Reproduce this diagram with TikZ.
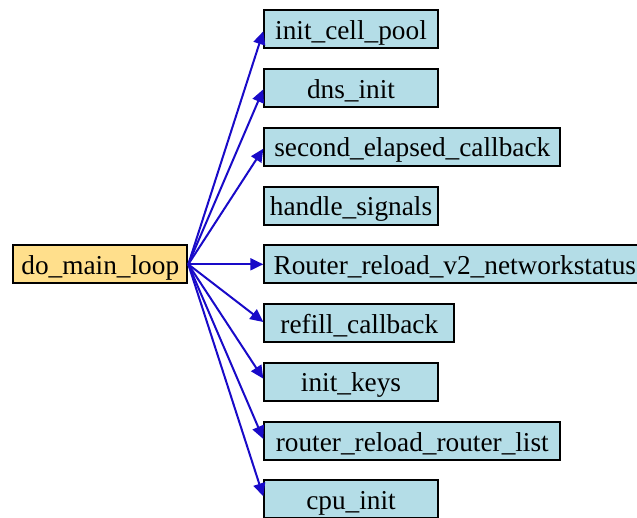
\documentclass[tikz,border=0pt]{standalone}
\usepackage{fontspec}
\setmainfont{LiberationSerif}[Extension=.ttf, UprightFont=*-Regular, BoldFont=*-Bold, ItalicFont=*-Italic, BoldItalicFont=*-BoldItalic]
\usetikzlibrary{arrows.meta}
\definecolor{calleefill}{RGB}{180,221,231}
\definecolor{callerfill}{RGB}{255,223,140}
\definecolor{calledge}{RGB}{25,10,200}
\begin{document}
\begin{tikzpicture}[x=1pt,y=-1pt,
  fn/.style={draw=black, line width=2pt, minimum height=38pt, inner sep=0pt,
             text height=20pt, text depth=0pt, font=\fontsize{27.3}{32}\selectfont},
  callee/.style={fn, fill=calleefill, anchor=west},
  call/.style={draw=calledge, line width=2pt, -{Triangle[length=13pt,width=12pt]}}]
\useasboundingbox (0,0) rectangle (637,517);

% caller
\node[fn, fill=callerfill, minimum width=174pt] (main) at (100.3,264.3) {do\_main\_loop};

% callees, one column
\node[callee, minimum width=173.4pt] (pool)    at (263.3,29.3)  {init\_cell\_pool};
\node[callee, minimum width=173.4pt] (dns)     at (263.3,88.3)  {dns\_init};
\node[callee, minimum width=296pt]   (second)  at (263.3,146.7) {second\_elapsed\_callback};
\node[callee, minimum width=173.4pt] (signals) at (263.3,205.7) {handle\_signals};
\node[callee, minimum width=381pt]   (netstat) at (263.3,264.3) {Router\_reload\_v2\_networkstatus};
\node[callee, minimum width=190pt]   (refill)  at (263.3,323)   {refill\_callback};
\node[callee, minimum width=173.4pt] (keys)    at (263.3,381.7) {init\_keys};
\node[callee, minimum width=296pt]   (rlist)   at (263.3,441)   {router\_reload\_router\_list};
\node[callee, minimum width=173.4pt] (cpu)     at (263.3,499.3) {cpu\_init};

% calls
\draw[call] (main.east) -- ([yshift=-2pt]pool.west);
\draw[call] (main.east) -- ([yshift=-1pt]dns.west);
\draw[call] (main.east) -- ([yshift=-2pt]second.west);
\draw[call] (main.east) -- (netstat.west);
\draw[call] (main.east) -- ([yshift=1pt]refill.west);
\draw[call] (main.east) -- ([yshift=3pt]keys.west);
\draw[call] (main.east) -- ([yshift=2pt]rlist.west);
\draw[call] (main.east) -- ([yshift=3pt]cpu.west);
\end{tikzpicture}
\end{document}
